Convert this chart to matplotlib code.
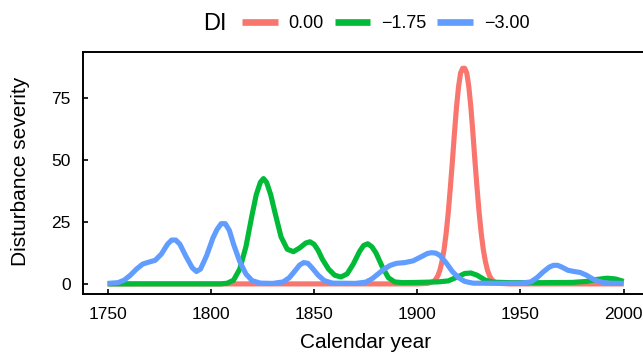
#disturbance severity curves for three DI values
import numpy as np
import matplotlib.pyplot as plt

plt.rcParams['font.family'] = ['Liberation Sans', 'DejaVu Sans']

#values
red_years = [1750, 1800, 1900, 1905, 1908, 1909, 1910, 1911, 1912, 1913, 1914, 1915,
             1916, 1917, 1918, 1919, 1920, 1921, 1922, 1923, 1924, 1925, 1926, 1927,
             1928, 1929, 1930, 1931, 1932, 1933, 1934, 1935, 1936, 1937, 1938, 1940,
             1945, 2000]
red_sev = [0, 0, 0, 0.2, 1.0, 1.9, 3.3, 5.6, 9.1, 13.9, 20.4, 28.6,
           38.5, 49.1, 60.6, 71.1, 79.5, 85.1, 87, 87, 85.1, 79.5, 71.1, 60.6,
           49.1, 38.5, 28.6, 20.4, 13.9, 9.1, 5.6, 3.3, 1.9, 1.0, 0.5, 0.2,
           0, 0]

green_years = [1750, 1805, 1808, 1811, 1814, 1817, 1820, 1822, 1824, 1825.5, 1827, 1829,
               1831, 1834, 1837, 1840, 1843, 1846, 1848, 1850, 1852, 1854, 1857, 1860,
               1863, 1866, 1869, 1872, 1874, 1876, 1878, 1880, 1883, 1886, 1889, 1893,
               1900, 1910, 1915, 1920, 1923, 1926, 1929, 1933, 1937, 1945, 1960, 1975,
               1982, 1987, 1992, 1996, 2000]
green_sev = [0, 0, 0.3, 1.5, 6, 15, 28, 36, 41, 42.5, 41, 36,
             29, 19, 14, 13, 14.5, 16.5, 17, 16, 13.5, 10, 6, 3.5,
             2.8, 4, 8, 13, 15.5, 16.2, 15, 12.5, 7, 2.5, 0.8, 0.5,
             0.6, 0.8, 1.2, 3, 4.2, 4.4, 3.5, 1.5, 0.7, 0.5, 0.5, 0.6,
             1, 1.8, 2.3, 2, 1]

blue_years = [1750, 1755, 1758, 1761, 1764, 1767, 1770, 1773, 1776, 1779, 1781, 1783,
              1785, 1788, 1791, 1793, 1795, 1798, 1801, 1803, 1805, 1807, 1809, 1811,
              1814, 1817, 1820, 1824, 1830, 1835, 1838, 1841, 1843, 1845, 1847, 1849,
              1852, 1855, 1859, 1870, 1875, 1878, 1881, 1884, 1887, 1890, 1894, 1898,
              1902, 1905, 1907, 1909, 1911, 1914, 1917, 1920, 1923, 1927, 1940, 1950,
              1955, 1958, 1961, 1964, 1966, 1968, 1970, 1973, 1976, 1979, 1982, 1985,
              1988, 1992, 2000]
blue_sev = [0.2, 0.5, 1.5, 3.5, 6, 8, 8.8, 9.5, 12, 16, 17.7, 17.7,
            16, 11, 6.5, 5, 6, 11.5, 18.5, 22, 24.3, 24.3, 21.5, 16,
            9, 4, 1.3, 0.3, 0.2, 0.8, 2.5, 5.5, 7.6, 8.6, 8.3, 6.5,
            3.5, 1.3, 0.3, 0.2, 0.7, 2, 4, 6, 7.5, 8.3, 8.6, 9.3,
            11, 12.3, 12.6, 12.4, 11.5, 8.5, 5, 2.5, 1, 0.3, 0.2, 0.3,
            0.8, 2.5, 4.8, 6.8, 7.5, 7.5, 6.8, 5.5, 5, 4.6, 3.5, 2,
            1, 0.3, 0.2]

labels = ['0.00', '\u22121.75', '\u22123.00']
colors = ['#F8766D', '#00BA38', '#619CFF']

fig = plt.figure(figsize=(6.43, 3.53), dpi=100)
# axes runs past the right edge like in the reference
ax = fig.add_axes([83.3/643, 58.7/353, 571.3/643, 242.6/353])

for yrs, sev, lab, col in zip([red_years, green_years, blue_years],
                              [red_sev, green_sev, blue_sev], labels, colors):
    ax.plot(yrs, sev, color=col, lw=3.7, label=lab,
            solid_capstyle='butt', solid_joinstyle='round')

ax.set_xlim(1738.2, 2015)
ax.set_ylim(-4.2, 93.7)
ax.set_xticks([1750, 1800, 1850, 1900, 1950, 2000])
ax.set_yticks([0, 25, 50, 75])
ax.tick_params(direction='in', length=3.6, width=1.2, labelsize=12.5,
               colors='black', pad=9)
ax.spines['right'].set_visible(False)
for s in ['left', 'bottom', 'top']:
    ax.spines[s].set_linewidth(1.4)

fig.text(21/643, 1 - 171/353, 'Disturbance severity', rotation=90, fontsize=15,
         ha='center', va='center')
fig.text(365.5/643, 1 - 342/353, 'Calendar year', fontsize=15, ha='center', va='center')

fig.text(214.7/643, 1 - 24/353, 'DI', fontsize=17, ha='center', va='center')
leg = fig.legend(loc='center left', bbox_to_anchor=(242/643, 1 - 24/353), ncol=3,
                 frameon=False, fontsize=13, handlelength=1.98, handletextpad=0.6,
                 columnspacing=0.6, borderaxespad=0, borderpad=0)
for h in leg.legend_handles:
    h.set_linewidth(4.8)

plt.savefig('out.png', dpi=100)
